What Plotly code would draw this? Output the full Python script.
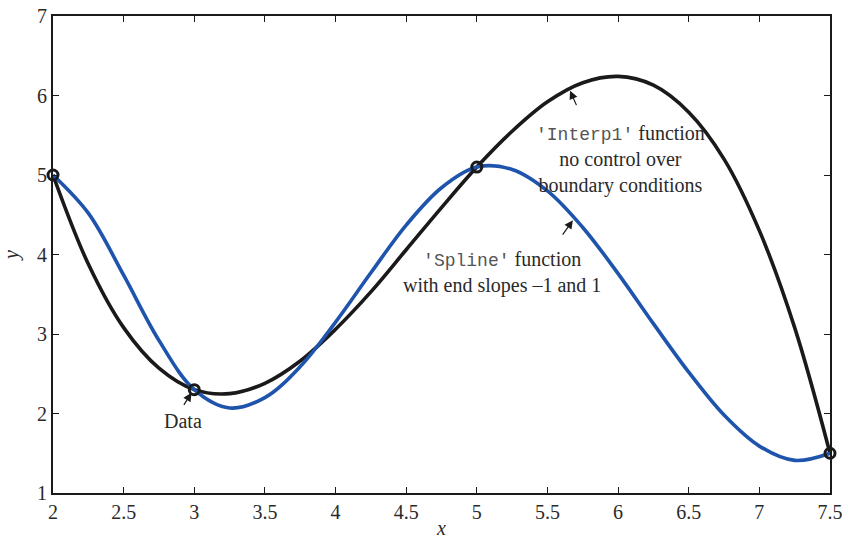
import plotly.graph_objects as go

# Measured data points
x_data = [2, 3, 5, 7.5]
y_data = [5.0, 2.3, 5.1, 1.5]

# Sample abscissae for the two interpolating curves
x_curve = [2.0, 2.25, 2.5, 2.75, 3.0, 3.25, 3.5, 3.75, 4.0, 4.25, 4.5, 4.75,
           5.0, 5.25, 5.5, 5.75, 6.0, 6.25, 6.5, 6.75, 7.0, 7.25, 7.5]

# 'interp1' spline result (no boundary-condition control)
y_interp1 = [5.00, 3.88, 3.08, 2.57, 2.30, 2.25, 2.38, 2.66, 3.06, 3.53, 4.06, 4.59,
             5.10, 5.55, 5.92, 6.16, 6.24, 6.13, 5.79, 5.20, 4.30, 3.08, 1.50]

# 'spline' result with end slopes -1 and 1
y_spline = [5.00, 4.52, 3.74, 2.92, 2.30, 2.07, 2.20, 2.59, 3.15, 3.77, 4.37, 4.84,
            5.10, 5.07, 4.80, 4.34, 3.76, 3.13, 2.52, 1.98, 1.59, 1.41, 1.50]

x_ticks = [2, 2.5, 3, 3.5, 4, 4.5, 5, 5.5, 6, 6.5, 7, 7.5]
x_tick_text = ["2", "2.5", "3", "3.5", "4", "4.5", "5", "5.5", "6", "6.5", "7", "7.5"]
y_ticks = [1, 2, 3, 4, 5, 6, 7]

SERIF = "Liberation Serif"
INK = "#1a1a1a"
TEXT = "#2a2a2a"
BLUE = "#1f54ad"

fig = go.Figure()

fig.add_trace(go.Scatter(
    x=x_curve, y=y_interp1, mode="lines",
    line=dict(color=INK, width=3.6, shape="spline", smoothing=1.0),
    showlegend=False, hoverinfo="skip",
))
fig.add_trace(go.Scatter(
    x=x_curve, y=y_spline, mode="lines",
    line=dict(color=BLUE, width=3.6, shape="spline", smoothing=1.0),
    showlegend=False, hoverinfo="skip",
))
fig.add_trace(go.Scatter(
    x=x_data, y=y_data, mode="markers",
    marker=dict(symbol="circle-open", size=10, color=INK, line=dict(width=3, color=INK)),
    cliponaxis=False, showlegend=False, hoverinfo="skip",
))

annot_font = dict(family=SERIF, size=20, color=TEXT)
arrow_style = dict(showarrow=True, arrowhead=2, arrowsize=1.4, arrowwidth=1.2,
                   arrowcolor=INK, axref="x", ayref="y", text="")
mono = "<span style=\"font-family:'Liberation Mono';font-size:18px;color:#555\">{}</span>"

fig.update_layout(
    annotations=[
        # Data pointer
        dict(x=2.98, y=2.26, ax=2.92, ay=2.09, **arrow_style),
        dict(x=2.92, y=1.9, text="Data", showarrow=False, font=annot_font),
        # interp1 pointer
        dict(x=5.66, y=6.06, ax=5.71, ay=5.86, **arrow_style),
        dict(x=6.02, y=5.19, showarrow=False, font=annot_font, align="center",
             text=mono.format("'Interp1'") + " function"
                  "<br>no control over<br>boundary conditions"),
        # spline pointer
        dict(x=5.68, y=4.43, ax=5.60, ay=4.23, **arrow_style),
        dict(x=5.18, y=3.77, showarrow=False, font=annot_font, align="center",
             text=mono.format("'Spline'") + " function"
                  "<br>with end slopes \u20131 and 1"),
    ],
)

axis_common = dict(
    showgrid=False, zeroline=False,
    showline=True, linecolor=INK, linewidth=2, mirror="ticks",
    ticks="inside", ticklen=6, tickwidth=1.4, tickcolor=INK,
    tickfont=dict(family=SERIF, size=20, color=TEXT),
)

fig.update_xaxes(
    range=[2, 7.5], tickvals=x_ticks, ticktext=x_tick_text,
    title=dict(text="<i>x</i>", font=dict(family=SERIF, size=20, color=TEXT), standoff=2),
    **axis_common,
)
fig.update_yaxes(
    range=[1, 7], tickvals=y_ticks,
    title=dict(text="<i>y</i>", font=dict(family=SERIF, size=20, color=TEXT), standoff=17),
    **axis_common,
)

fig.update_layout(
    width=845, height=539,
    margin=dict(l=53, r=15, t=16, b=46, autoexpand=False),
    paper_bgcolor="white", plot_bgcolor="white",
)

fig.write_html("out.html")
